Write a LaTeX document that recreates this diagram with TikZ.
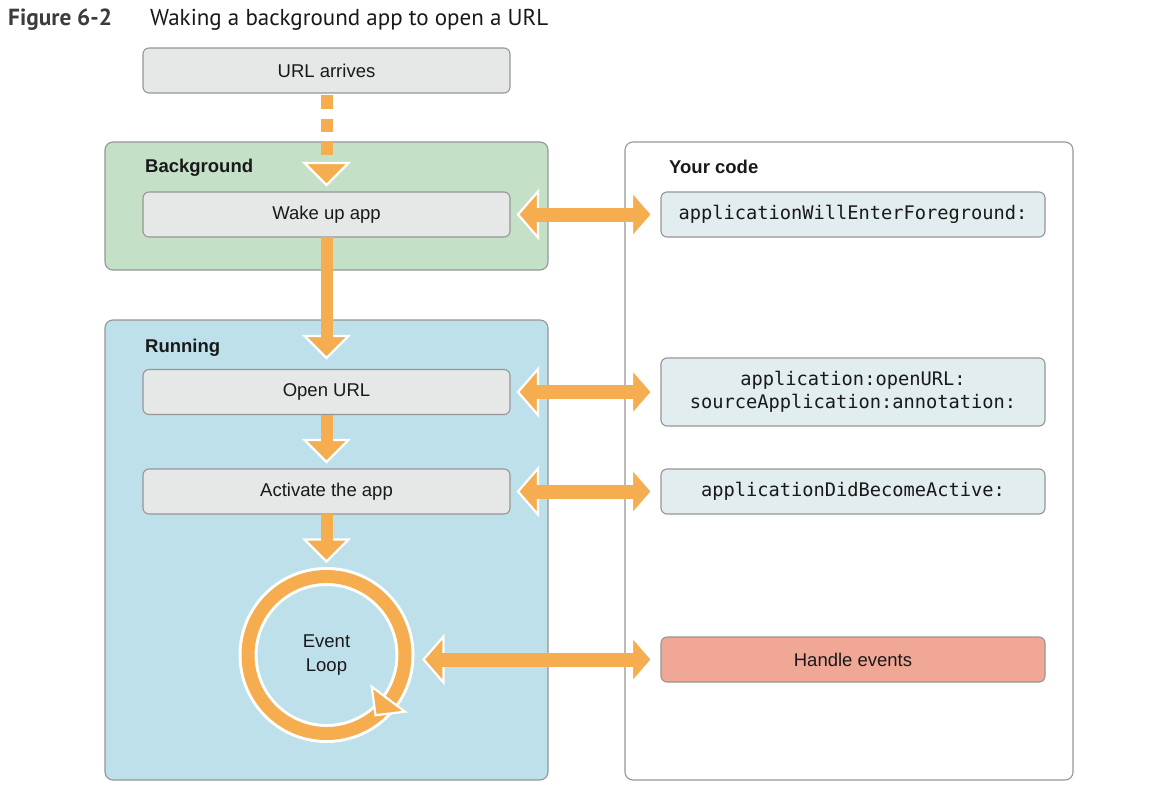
\documentclass[tikz,border=0pt]{standalone}
\usepackage{fontspec}
\setmainfont{Liberation Sans}
\setmonofont{DejaVu Sans Mono}
\newfontfamily\titlefont{PT Sans}
\usetikzlibrary{calc}
\definecolor{arrowfill}{RGB}{246,173,79}
\definecolor{boxgray}{RGB}{230,231,231}
\definecolor{boxborder}{RGB}{150,150,150}
\definecolor{bggreen}{RGB}{196,225,200}
\definecolor{runblue}{RGB}{189,224,234}
\definecolor{codefill}{RGB}{225,237,238}
\definecolor{handlefill}{RGB}{240,167,150}
\definecolor{titlegray}{RGB}{60,60,60}
\definecolor{txt}{RGB}{25,25,25}
\newcommand\dhead[1]{\filldraw[headstyle] (#1) -- ++(-22,-22) -- ++(44,0) -- cycle;}
\newcommand\varrow[2]{\dhead{#2}\fill[arrowfill] ($(#1)+(-6,0)$) rectangle ($(#2)+(6,-20)$);}
\newcommand\harrow[2]{%
  \filldraw[headstyle] (#1) -- ++(20,-23) -- ++(0,46) -- cycle;
  \filldraw[headstyle] (#2) -- ++(-20,-23) -- ++(0,46) -- cycle;
  \fill[arrowfill] ($(#1)+(18,-7)$) rectangle ($(#2)+(-18,7)$);}
\begin{document}
\begin{tikzpicture}[x=1pt,y=-1pt,
  headstyle/.style={fill=arrowfill, draw=white, line width=2.2pt, line join=miter},
  box/.style={draw=boxborder, line width=1.1pt, fill=boxgray, rounded corners=6pt,
    minimum width=367pt, minimum height=45pt, inner sep=0pt, outer sep=0pt,
    font=\fontsize{18.5}{22}\selectfont, text=txt},
  codebox/.style={box, fill=codefill, minimum width=384pt,
    font=\ttfamily\fontsize{18.7}{23}\selectfont, align=center},
  panel/.style={draw=boxborder, line width=1.1pt, rounded corners=8pt},
  lbl/.style={anchor=base west, inner sep=0pt, text=txt,
    font=\bfseries\fontsize{18.5}{22}\selectfont}]
\useasboundingbox (0,0) rectangle (1164,798);
\fill[white] (0,0) rectangle (1164,798);
% title
\node[anchor=base west, inner sep=0pt, text=titlegray,
  font=\titlefont\bfseries\fontsize{23.3}{28}\selectfont] (fig) at (8,25.5) {Figure 6-2};
\node[anchor=base west, inner sep=0pt, text=txt,
  font=\titlefont\fontsize{23}{28}\selectfont] (title) at (150,25.5) {Waking a background app to open a URL};
% panels
\draw[panel, fill=bggreen] (105,142) rectangle (548,270);
\draw[panel, fill=runblue] (105,320) rectangle (548,780);
\draw[panel, fill=white] (625,142) rectangle (1073,780);
\node[lbl] (bglbl) at (145,172.5) {Background};
\node[lbl] (runlbl) at (145,352.5) {Running};
\node[lbl] (codelbl) at (669,173) {Your code};
% boxes
\node[box] (url) at (326.5,70.5) {URL arrives};
\node[box] (wake) at (326.5,214.5) {Wake up app};
\node[box] (open) at (326.5,392) {Open URL};
\node[box] (act) at (326.5,491.5) {Activate the app};
\node[codebox] (c1) at (853,214.5) {applicationWillEnterForeground:};
\node[codebox, minimum height=68pt] (c2) at (853,392) {application:openURL:\\sourceApplication:annotation:};
\node[codebox] (c3) at (853,491.5) {applicationDidBecomeActive:};
\node[box, fill=handlefill, minimum width=384pt] (handle) at (853,659.5) {Handle events};
% event loop
\node[circle, draw=white, line width=3pt, double=arrowfill, double distance=13pt,
  minimum size=157pt, inner sep=0pt, outer sep=0pt, align=center, text=txt,
  font=\fontsize{18.5}{24}\selectfont] (loop) at (326.5,655) {Event\\Loop};
\filldraw[headstyle] ($(loop.center)+(49,60.2)$) -- ($(loop.center)+(45.2,31.7)$)
  -- ($(loop.center)+(78.5,56.7)$) -- cycle;
% dashed arrow
\draw[arrowfill, line width=12pt, dash pattern=on 13.5pt off 10pt]
  ($(url.south)+(0,2)$) -- ($(wake.north)+(0,-37)$);
\coordinate (t0) at ($(wake.north)+(0,-7)$);
\dhead{t0}
% vertical arrows
\coordinate (t1) at ($(open.north)+(0,-11.5)$);
\varrow{wake.south}{t1}
\coordinate (t2) at ($(act.north)+(0,-7)$);
\varrow{open.south}{t2}
\coordinate (t3) at ($(loop.north)+(0,-15)$);
\varrow{act.south}{t3}
% horizontal arrows
\coordinate (l1) at ($(wake.east)+(8,0)$);
\coordinate (r1) at ($(c1.west)+(-9,0)$);
\harrow{l1}{r1}
\coordinate (l2) at ($(open.east)+(8,0)$);
\coordinate (r2) at ($(c2.west)+(-9,0)$);
\harrow{l2}{r2}
\coordinate (l3) at ($(act.east)+(8,0)$);
\coordinate (r3) at ($(c3.west)+(-9,0)$);
\harrow{l3}{r3}
\path (loop.east) ++(18.5,0) coordinate (lx);
\coordinate (l4) at (lx |- handle.west);
\coordinate (r4) at ($(handle.west)+(-9,0)$);
\harrow{l4}{r4}
\end{tikzpicture}
\end{document}
